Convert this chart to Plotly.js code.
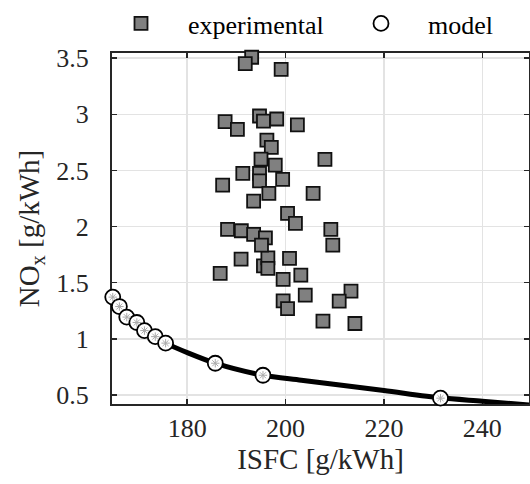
<!DOCTYPE html>
<html>
<head>
<meta charset="utf-8">
<script src="https://cdn.plot.ly/plotly-3.0.1.min.js"></script>
<style>html,body{margin:0;padding:0;background:#fff;}#chart{width:530px;height:484px;}</style>
</head>
<body>
<div id="chart"></div>
<script>
// Experimental measurements: ISFC [g/kWh] and NOx [g/kWh]
var expISFC = [190.95,193.1,191.8,199.1,187.7,190.2,194.7,195.5,198.2,196.2,
               197.1,202.4,195.0,197.9,191.3,194.7,194.7,187.2,199.4,196.6,
               193.5,200.4,188.2,191.0,193.5,195.9,208.0,205.6,202.0,209.2,
               186.7,190.95,195.5,196.4,196.4,195.1,199.5,199.5,200.4,200.8,
               209.6,203.1,204.0,213.3,210.9,207.6,214.1];
var expNOx  = [3.553,3.508,3.451,3.401,2.934,2.866,2.985,2.94,2.958,2.77,
               2.706,2.905,2.60,2.548,2.474,2.474,2.408,2.37,2.42,2.296,
               2.227,2.118,1.975,1.963,1.93,1.90,2.599,2.296,2.029,1.975,
               1.583,1.71,1.651,1.722,1.627,1.835,1.53,1.339,1.27,1.717,
               1.835,1.568,1.39,1.425,1.336,1.158,1.137];
// Model points
var modelISFC = [164.85,166.2,167.7,169.75,171.3,173.5,175.6,185.7,195.4,231.5];
var modelNOx  = [1.372,1.288,1.194,1.146,1.074,1.02,0.962,0.783,0.676,0.472];
// Model curve
var curveISFC = [164.85,166.2,167.7,169.75,171.3,173.5,175.6,185.7,195.4,203.2,220,231.5,240,251];
var curveNOx  = [1.372,1.288,1.194,1.146,1.074,1.02,0.962,0.783,0.676,0.632,0.54,0.475,0.445,0.405];
var xTicks = [180,200,220,240];
var yTicks = [0.5,1,1.5,2,2.5,3,3.5];

var FONT = '"Liberation Serif", "Times New Roman", Times, serif';
var INK = '#262626';

var traces = [
  {x: curveISFC, y: curveNOx, mode: 'lines', line: {color: '#000', width: 5, shape: 'spline', smoothing: 0.8},
   showlegend: false, hoverinfo: 'skip'},
  {x: expISFC, y: expNOx, mode: 'markers', name: 'experimental', cliponaxis: false, legend: 'legend',
   marker: {symbol: 'square', size: 13, color: '#808080', line: {color: '#111', width: 1.8}}},
  {x: modelISFC, y: modelNOx, mode: 'markers', name: 'model', cliponaxis: false, legend: 'legend2',
   marker: {symbol: 'circle', size: 15, color: '#fff', line: {color: '#000', width: 1.8}}},
  {x: modelISFC, y: modelNOx, mode: 'markers', showlegend: false, cliponaxis: false,
   marker: {symbol: 'asterisk-open', size: 7, color: '#aaa', line: {color: '#aaa', width: 1}}}
];

var axisCommon = {
  showline: true, linecolor: INK, linewidth: 2, mirror: 'ticks',
  ticks: 'inside', ticklen: 5, tickwidth: 1.5, tickcolor: INK,
  showgrid: true, gridcolor: '#e3e3e3', gridwidth: 1.5,
  zeroline: false, layer: 'below traces',
  tickfont: {family: FONT, size: 26, color: INK}
};

var PLOT_L = 112, PLOT_W = 417, PLOT_T = 53, PLOT_H = 351;
var legendCommon = {
  orientation: 'v', xref: 'paper', yref: 'paper', y: 1 + PLOT_T / PLOT_H, xanchor: 'left', yanchor: 'top',
  font: {family: FONT, size: 26, color: '#000'}, bgcolor: 'rgba(0,0,0,0)', itemwidth: 84
};

var layout = {
  width: 530, height: 484,
  margin: {l: 112, r: 1, t: 53, b: 80, pad: 0, autoexpand: false},
  paper_bgcolor: '#fff', plot_bgcolor: '#fff',
  font: {family: FONT, color: INK},
  xaxis: Object.assign({}, axisCommon, {
    range: [164.7, 249.5], tickvals: xTicks, ticktext: xTicks.map(String),
    ticklabelstandoff: 0, automargin: false,
    title: {text: 'ISFC [g/kWh]', font: {family: FONT, size: 29, color: INK}, standoff: 0}
  }),
  yaxis: Object.assign({}, axisCommon, {
    range: [0.42, 3.546], tickvals: yTicks, ticktext: yTicks.map(String),
    ticklabelstandoff: 16, automargin: false,
    title: {text: 'NO<sub>x</sub> [g/kWh]', font: {family: FONT, size: 29, color: INK}, standoff: 8}
  }),
  legend: Object.assign({}, legendCommon, {x: (94 - PLOT_L) / PLOT_W}),
  legend2: Object.assign({}, legendCommon, {x: (334 - PLOT_L) / PLOT_W}),
  showlegend: true
};

Plotly.newPlot('chart', traces, layout, {staticPlot: true});
</script>
</body>
</html>
